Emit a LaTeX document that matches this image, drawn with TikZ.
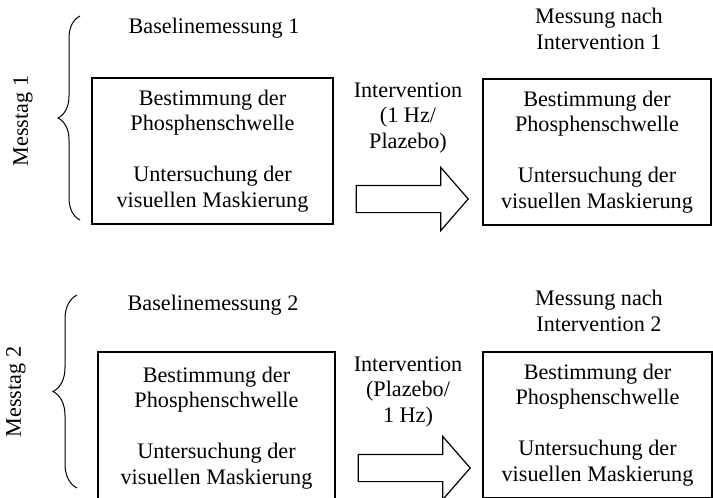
\documentclass[tikz,border=0pt]{standalone}
\usepackage{fontspec}
\setmainfont{Liberation Serif}
\usetikzlibrary{positioning, decorations.pathreplacing, shapes.arrows}

\tikzset{
    messbox/.style={draw, line width=0.6pt, align=center, inner sep=0pt, minimum height=73pt},
    klammer/.style={decorate, decoration={brace, amplitude=#1}, line width=0.5pt},
    blockpfeil/.style={single arrow, draw, line width=0.6pt, inner sep=0pt,
        text height=13pt, text depth=0pt, minimum width=0pt, minimum height=56pt,
        single arrow head extend=9pt, single arrow tip angle=98, anchor=tip},
    etikett/.style={align=center, inner sep=0pt}
}

\begin{document}
\begin{tikzpicture}[x=0.5pt, y=-0.5pt, font=\fontsize{11.1}{12.75}\selectfont]
        \clip (0,0) rectangle (713,498);
        % Messtag 1
        \begin{scope}
            \node[etikett, rotate=90] (tag1) at (23,121) {Messtag 1};
            \draw[klammer=11pt] (80,220) -- (80,16);
            \node[etikett, anchor=base] (basis1) at (214,33) {Baselinemessung 1};
            \node[messbox, minimum width=120.5pt] (vor1) at (212.5,151) {
                Bestimmung der\\Phosphenschwelle\\[12.75pt]Untersuchung der\\visuellen Maskierung
            };
            \node[etikett] (int1) at (408,118) {Intervention\\(1 Hz/\\Plazebo)};
            \node[blockpfeil] (pfeil1) at (469,199) {};
            \node[etikett] (nach1) at (599,29) {Messung nach\\Intervention 1};
            \node[messbox, minimum width=114pt] (mess1) at (597,152) {
                Bestimmung der\\Phosphenschwelle\\[12.75pt]Untersuchung der\\visuellen Maskierung
            };
        \end{scope}
        % Messtag 2 (Box unten abgeschnitten)
        \begin{scope}
            \node[etikett, rotate=90] (tag2) at (16,392) {Messtag 2};
            \draw[klammer=12pt] (77,488) -- (77,295);
            \node[etikett, anchor=base] (basis2) at (213,310) {Baselinemessung 2};
            \node[messbox, minimum width=118.5pt, minimum height=76pt] (vor2) at (216.5,428) {
                Bestimmung der\\Phosphenschwelle\\[12.75pt]Untersuchung der\\visuellen Maskierung
            };
            \node[etikett] (int2) at (408,392) {Intervention\\(Plazebo/\\1 Hz)};
            \node[blockpfeil] (pfeil2) at (471,468) {};
            \node[etikett] (nach2) at (599,311) {Messung nach\\Intervention 2};
            \node[messbox, minimum width=114.5pt] (mess2) at (597.5,425) {
                Bestimmung der\\Phosphenschwelle\\[12.75pt]Untersuchung der\\visuellen Maskierung
            };
        \end{scope}
\end{tikzpicture}
\end{document}
